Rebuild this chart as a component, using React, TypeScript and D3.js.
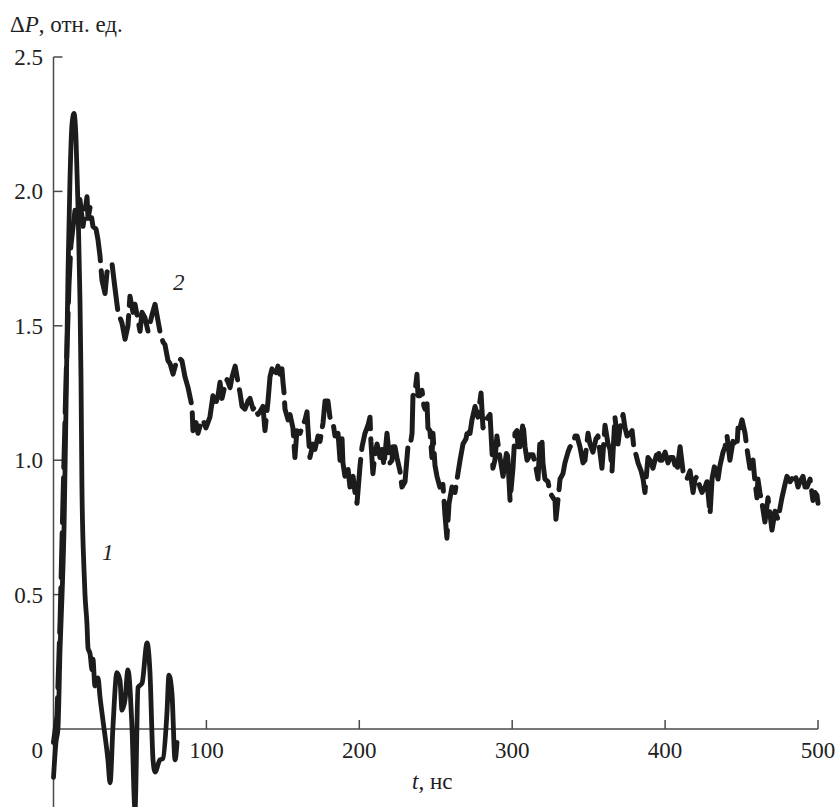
import React from "react";
import * as d3 from "d3";

// Curve 1 (solid)
const T1 = [0, 1.6, 2.9, 4.3, 5.6, 6.9, 8.2, 9.5, 10.8, 12.1, 13.4, 14.7, 16.0, 17.3, 18.0, 18.6, 19.9, 20.6, 21.9, 22.6, 23.9, 25.2, 25.8, 27.1, 29.1, 30.4, 32.4, 35.6, 37.0, 38.9, 41.5, 43.5, 44.8, 46.8, 48.7, 51.3, 53.3, 55.3, 57.9, 61.2, 63.1, 65.1, 66.4, 69.6, 71.6, 74.2, 75.5, 77.5, 79.5, 80.8];
const DP1 = [-0.18, -0.05, 0.0, 0.3, 0.5, 0.75, 1.2, 1.7, 2.05, 2.25, 2.29, 2.2, 1.95, 1.6, 1.3, 0.9, 0.6, 0.5, 0.39, 0.3, 0.28, 0.22, 0.26, 0.16, 0.19, 0.12, 0.03, -0.115, -0.2, 0.01, 0.21, 0.18, 0.07, 0.11, 0.22, 0.01, -0.3, 0.155, 0.17, 0.32, 0.21, -0.115, -0.16, -0.115, -0.11, 0.06, 0.2, 0.13, -0.115, -0.05];

// Curve 2 (dashed)
const T2 = [0, 2.3, 4.3, 6.2, 8.2, 10.1, 11.4, 12.8, 14.1, 16.0, 17.3, 19.3, 21.9, 22.6, 23.9, 25.8, 27.8, 29.1, 30.4, 31.7, 33.7, 35.0, 38.3, 40.2, 42.2, 44.8, 46.8, 48.7, 50.0, 52.0, 53.3, 55.3, 56.6, 57.9, 59.8, 61.8, 64.4, 66.4, 68.3, 69.6, 71.6, 72.9, 74.9, 76.2, 78.2, 80.1, 82.1, 84.0, 86.0, 88.0, 90.6, 91.2, 93.2, 94.5, 96.5, 97.8, 99.7, 102.3, 104.3, 105.6, 107.6, 108.9, 110.2, 112.2, 113.5, 115.5, 116.8, 118.8, 120.7, 122.0, 123.3, 125.2, 127.2, 128.5, 130.5, 131.8, 133.7, 135.0, 137.0, 138.3, 140.3, 141.6, 142.9, 144.9, 146.8, 148.1, 149.4, 150.1, 150.8, 151.4, 153.4, 154.7, 156.6, 157.9, 159.2, 161.2, 162.5, 164.5, 165.8, 166.4, 167.7, 169.7, 171.0, 173.0, 174.3, 176.3, 177.6, 179.5, 180.8, 182.8, 184.1, 186.1, 187.4, 188.7, 189.3, 190.6, 192.6, 193.9, 195.9, 197.2, 198.5, 200.5, 201.8, 203.7, 205.7, 207.0, 207.6, 208.9, 210.2, 211.6, 213.5, 214.8, 216.1, 218.1, 220.1, 221.4, 222.0, 223.3, 224.6, 226.6, 227.9, 229.9, 231.8, 233.2, 234.5, 235.1, 236.4, 237.7, 238.4, 239.7, 241.0, 242.3, 243.0, 244.3, 244.9, 246.2, 247.5, 248.2, 249.5, 250.8, 252.7, 254.7, 256.0, 257.3, 258.7, 260.6, 262.6, 264.5, 265.9, 267.8, 269.8, 271.1, 272.4, 273.7, 275.7, 277.6, 279.6, 280.9, 282.9, 284.2, 285.5, 286.8, 287.4, 288.7, 290.0, 292.0, 294.0, 295.3, 296.6, 297.2, 298.6, 300.5, 301.8, 303.1, 303.8, 305.1, 307.1, 308.4, 309.7, 311.6, 313.6, 315.6, 316.9, 318.2, 319.5, 320.1, 321.4, 323.4, 324.7, 326.7, 328.0, 328.6, 329.9, 331.3, 333.2, 334.5, 336.5, 337.8, 339.8, 341.1, 342.4, 344.3, 346.3, 347.6, 349.6, 350.9, 352.8, 354.8, 356.1, 357.4, 358.7, 360.7, 362.7, 364.0, 365.3, 367.2, 369.2, 370.5, 372.5, 373.8, 375.1, 377.1, 378.4, 379.7, 381.0, 382.3, 384.3, 385.6, 386.8, 388.8, 390.1, 392.1, 393.4, 395.4, 396.7, 398.0, 400.0, 401.9, 403.2, 405.2, 406.5, 407.8, 409.8, 411.7, 413.0, 414.3, 416.3, 418.3, 419.6, 420.9, 422.8, 424.1, 426.1, 427.4, 429.4, 430.7, 432.7, 434.6, 435.9, 437.9, 439.2, 440.5, 442.4, 444.4, 445.7, 447.0, 447.7, 449.0, 450.3, 452.3, 453.6, 455.5, 457.5, 458.8, 460.1, 460.7, 462.0, 463.4, 465.3, 467.3, 468.6, 469.9, 471.9, 473.8, 475.1, 476.4, 478.4, 479.7, 481.7, 483.0, 485.0, 486.9, 488.2, 490.2, 491.5, 492.8, 494.8, 496.7, 498.0, 499.3, 500.0];
const DP2 = [-0.05, 0.05, 0.4, 0.85, 1.3, 1.65, 1.8, 1.87, 1.93, 1.9, 1.97, 1.87, 1.98, 1.9, 1.94, 1.87, 1.86, 1.82, 1.76, 1.67, 1.62, 1.7, 1.73, 1.64, 1.55, 1.51, 1.45, 1.5, 1.61, 1.55, 1.58, 1.52, 1.48, 1.55, 1.53, 1.48, 1.54, 1.58, 1.52, 1.48, 1.44, 1.43, 1.37, 1.36, 1.32, 1.36, 1.38, 1.37, 1.31, 1.27, 1.2, 1.11, 1.14, 1.1, 1.14, 1.15, 1.12, 1.16, 1.24, 1.2, 1.24, 1.29, 1.23, 1.28, 1.3, 1.27, 1.31, 1.35, 1.29, 1.25, 1.2, 1.19, 1.22, 1.23, 1.19, 1.2, 1.17, 1.18, 1.2, 1.11, 1.22, 1.31, 1.34, 1.31, 1.35, 1.32, 1.34, 1.29, 1.25, 1.19, 1.15, 1.17, 1.12, 1.01, 1.11, 1.1, 1.12, 1.15, 1.18, 1.12, 1.01, 1.06, 1.04, 1.09, 1.07, 1.14, 1.22, 1.22, 1.16, 1.14, 1.09, 1.1, 1.0, 1.08, 0.99, 0.94, 0.97, 0.9, 0.94, 0.88, 0.84, 0.98, 1.05, 1.1, 1.13, 1.16, 1.07, 0.95, 1.02, 1.06, 1.01, 1.04, 0.98, 1.1, 0.99, 1.0, 1.05, 1.05, 1.01, 0.96, 0.9, 0.92, 1.05, 1.05, 1.1, 1.24, 1.25, 1.32, 1.24, 1.24, 1.26, 1.2, 1.19, 1.21, 1.12, 1.11, 1.01, 1.1, 0.98, 0.94, 0.9, 0.91, 0.8, 0.71, 0.84, 0.9, 0.88, 0.95, 1.0, 1.06, 1.08, 1.12, 1.1, 1.15, 1.2, 1.16, 1.25, 1.12, 1.15, 1.16, 1.17, 1.03, 0.97, 1.0, 1.09, 1.01, 0.94, 0.99, 1.04, 1.0, 0.85, 0.97, 1.1, 1.11, 1.05, 1.05, 1.14, 1.05, 1.0, 1.02, 1.02, 0.97, 0.93, 1.08, 1.07, 0.99, 0.93, 0.92, 0.88, 0.86, 0.85, 0.78, 0.85, 0.93, 0.95, 0.99, 1.03, 1.05, 1.06, 1.09, 1.09, 1.05, 0.99, 1.0, 1.1, 1.06, 1.03, 1.08, 1.09, 1.03, 0.97, 1.13, 1.06, 1.04, 0.96, 1.16, 1.06, 1.12, 1.17, 1.12, 1.09, 1.1, 1.11, 1.04, 1.02, 0.99, 0.96, 0.93, 0.88, 1.01, 1.0, 0.97, 1.0, 1.04, 1.0, 1.0, 1.03, 0.99, 1.01, 1.01, 0.98, 0.96, 1.05, 0.96, 0.95, 0.93, 0.96, 0.88, 0.93, 0.94, 0.9, 0.88, 0.9, 0.92, 0.8, 0.93, 0.99, 0.93, 0.98, 1.03, 1.05, 1.09, 1.0, 1.07, 1.06, 1.05, 1.12, 1.12, 1.15, 1.1, 1.04, 0.97, 1.0, 0.92, 0.86, 0.93, 0.88, 0.84, 0.77, 0.86, 0.8, 0.74, 0.81, 0.78, 0.82, 0.86, 0.91, 0.94, 0.92, 0.93, 0.95, 0.9, 0.92, 0.94, 0.9, 0.9, 0.93, 0.85, 0.88, 0.87, 0.84];

const X_TICKS = [100, 200, 300, 400, 500];
const Y_TICKS = [0.5, 1.0, 1.5, 2.0, 2.5];
const Y_LABELS = ["0.5", "1.0", "1.5", "2.0", "2.5"];

const W = 838;
const H = 807;

export default function App() {
  const x = d3.scaleLinear().domain([0, 500]).range([53.5, 818]);
  const y = d3.scaleLinear().domain([0, 2.5]).range([729, 57]);

  const d1 = T1.map((t, i) => [t, DP1[i]] as [number, number]);
  const d2 = T2.map((t, i) => [t, DP2[i]] as [number, number]);

  const line1 = d3
    .line<[number, number]>()
    .x((d) => x(d[0]))
    .y((d) => y(d[1]))
    .curve(d3.curveMonotoneX);
  const line2 = d3
    .line<[number, number]>()
    .x((d) => x(d[0]))
    .y((d) => y(d[1]));

  const axisColor = "#4a4a4a";
  const ink = "#1c1c1c";
  const tp = { fontFamily: "Liberation Serif", fontSize: 23, fill: "#222" };

  return (
    <svg
      width={W}
      height={H}
      style={{ position: "absolute", left: 0, top: 0, display: "block", background: "#fff" }}
    >
      {/* axes */}
      <line x1={x(0)} x2={x(0)} y1={y(2.5)} y2={H} stroke={axisColor} strokeWidth={1.5} />
      <line x1={x(0)} x2={x(500)} y1={y(0)} y2={y(0)} stroke={axisColor} strokeWidth={1.5} />
      {Y_TICKS.map((v) => (
        <line key={"yt" + v} x1={x(0)} x2={x(0) + 9} y1={y(v)} y2={y(v)} stroke={axisColor} strokeWidth={1.5} />
      ))}
      {X_TICKS.map((t) => (
        <line key={"xt" + t} x1={x(t)} x2={x(t)} y1={y(0)} y2={y(0) - 9} stroke={axisColor} strokeWidth={1.5} />
      ))}

      {/* labels */}
      {Y_TICKS.map((v, i) => (
        <text key={"yl" + v} x={43} y={y(v) + 8} textAnchor="end" {...tp}>
          {Y_LABELS[i]}
        </text>
      ))}
      <text x={43} y={758} textAnchor="end" {...tp}>0</text>
      {X_TICKS.map((t) => (
        <text key={"xl" + t} x={x(t)} y={758} textAnchor="middle" {...tp}>
          {t}
        </text>
      ))}
      <text x={10} y={32} {...tp}>
        Δ<tspan fontStyle="italic">P</tspan>, отн. ед.
      </text>
      <text x={412} y={789} {...tp}>
        <tspan fontStyle="italic">t</tspan>, нс
      </text>

      {/* curves */}
      <path d={line2(d2) || ""} fill="none" stroke={ink} strokeWidth={5} strokeLinejoin="round" strokeLinecap="round" strokeDasharray="45 10" />
      <path d={line1(d1) || ""} fill="none" stroke={ink} strokeWidth={4.8} strokeLinejoin="round" strokeLinecap="round" />

      <text x={173} y={290} fontStyle="italic" {...tp}>2</text>
      <text x={102} y={560} fontStyle="italic" {...tp}>1</text>
    </svg>
  );
}
